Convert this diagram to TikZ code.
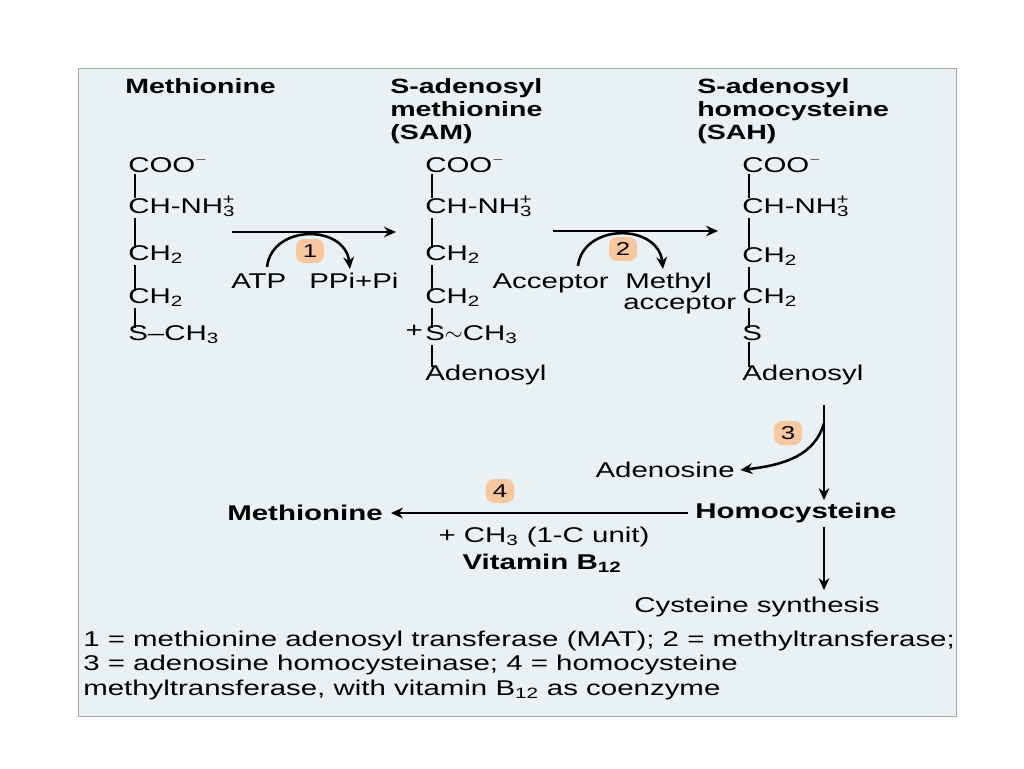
\documentclass[tikz,border=0pt]{standalone}
\usepackage{fontspec}
\setmainfont{Liberation Sans}[FakeStretch=1.38]
\usetikzlibrary{arrows.meta}
\definecolor{panel}{RGB}{234,241,245}
\definecolor{lbl}{RGB}{247,200,160}
\tikzset{
  txt/.style={inner sep=0pt,anchor=base west,font=\fontsize{16}{19}\selectfont},
  ttl/.style={inner sep=0pt,anchor=north west,align=left,font=\fontsize{15.5}{15.5}\selectfont\bfseries},
  bond/.style={line width=1.3pt},
  rx/.style={line width=1.9pt,-{Stealth[length=9pt,width=8pt]}},
  num/.style={fill=lbl,rounded corners=6pt,minimum width=21pt,minimum height=18pt,inner sep=0pt,font=\fontsize{14}{14}\selectfont},
}
\newcommand{\Nplus}{NH\textsubscript{3}\llap{\textsuperscript{+}}}
\begin{document}
\begin{tikzpicture}[x=0.75pt,y=-0.75pt]
\useasboundingbox (0,0) rectangle (1024,768);
\fill[white] (0,0) rectangle (1024,768);
\draw[fill=panel,draw=gray!70] (78,68) rectangle (956,716);
% titles
\node[ttl] (t1) at (125,78) {Methionine};
\node[ttl] (t2) at (390,78) {S-adenosyl\\[2pt]methionine\\[2pt](SAM)};
\node[ttl] (t3) at (697,78) {S-adenosyl\\[2pt]homocysteine\\[2pt](SAH)};
% column 1
\node[txt] (a1) at (128,172) {COO\textsuperscript{$-$}};
\node[txt] (a2) at (128,213) {CH-\Nplus};
\node[txt] (a3) at (128,260) {CH\textsubscript{2}};
\node[txt] (a4) at (128,303) {CH\textsubscript{2}};
\node[txt] (a5) at (128,340) {S--CH\textsubscript{3}};
\foreach \u/\v in {a1/a2,a2/a3,a3/a4,a4/a5}
  \draw[bond] ([xshift=5.5pt,yshift=-1pt]\u.south west) -- ([xshift=5.5pt,yshift=-2pt]\v.north west);
% column 2
\node[txt] (b1) at (425,172) {COO\textsuperscript{$-$}};
\node[txt] (b2) at (425,213) {CH-\Nplus};
\node[txt] (b3) at (425,260) {CH\textsubscript{2}};
\node[txt] (b4) at (425,303) {CH\textsubscript{2}};
\node[txt] (b5) at (425,340) {S$\sim$CH\textsubscript{3}};
\node[txt,anchor=base east] (bp) at (423,337) {+};
\node[txt] (b6) at (425,380) {Adenosyl};
\foreach \u/\v in {b1/b2,b2/b3,b3/b4,b4/b5,b5/b6}
  \draw[bond] ([xshift=5.5pt,yshift=-1pt]\u.south west) -- ([xshift=5.5pt,yshift=-2pt]\v.north west);
% column 3
\node[txt] (c1) at (742,172) {COO\textsuperscript{$-$}};
\node[txt] (c2) at (742,213) {CH-\Nplus};
\node[txt] (c3) at (742,262) {CH\textsubscript{2}};
\node[txt] (c4) at (742,303) {CH\textsubscript{2}};
\node[txt] (c5) at (742,340) {S};
\node[txt] (c6) at (742,380) {Adenosyl};
\foreach \u/\v in {c1/c2,c2/c3,c3/c4,c4/c5,c5/c6}
  \draw[bond] ([xshift=5.5pt,yshift=-1pt]\u.south west) -- ([xshift=5.5pt,yshift=-2pt]\v.north west);
% reaction 1
\coordinate (r1s) at (232,232); \coordinate (r1e) at (396,232);
\draw[rx] (r1s) -- (r1e);
\node[txt] (atp) at (231,288) {ATP};
\node[txt] (ppi) at (309,288) {PPi+Pi};
\node[num] (n1) at (310,251) {1};
\coordinate (c1s) at (267,267); \coordinate (c1e) at (350,269);
\draw[rx] (c1s) .. controls (272,224) and (345,224) .. (c1e);
% reaction 2
\coordinate (r2s) at (553,231); \coordinate (r2e) at (718,231);
\draw[rx] (r2s) -- (r2e);
\node[txt,anchor=base east] (acc) at (609,288) {Acceptor};
\node[txt] (me1) at (625,288) {Methyl};
\node[txt] (me2) at (623,309) {acceptor};
\node[num] (n2) at (623,249) {2};
\coordinate (c2s) at (578,266); \coordinate (c2e) at (663,269);
\draw[rx] (c2s) .. controls (583,223) and (658,223) .. (c2e);
% reaction 3
\coordinate (v1) at (824,405);
\node[txt,font=\fontsize{16}{19}\selectfont\bfseries,anchor=center] (hcy) at (796,513) {Homocysteine};
\draw[rx] (v1) -- ([yshift=2pt]hcy.north -| v1);
\node[txt,anchor=east] (ado) at (735,470) {Adenosine};
\node[num] (n3) at (788,433) {3};
\coordinate (v2) at (824,423);
\draw[rx] (v2) .. controls (815,455) and (785,465) .. ([xshift=4pt]ado.east);
% reaction 4
\node[txt,font=\fontsize{16}{19}\selectfont\bfseries,anchor=center] (met) at (305,513) {Methionine};
\draw[rx] ([xshift=-5pt]hcy.west) -- ([xshift=6pt]met.east);
\node[num] (n4) at (500,491) {4};
\node[txt,anchor=center] (ch3) at (544,537) {+ CH\textsubscript{3} (1-C unit)};
\node[txt,anchor=center,font=\fontsize{16}{19}\selectfont\bfseries] (vb) at (542,563) {Vitamin B\textsubscript{12}};
% cysteine
\node[txt,anchor=center] (cys) at (757,607) {Cysteine synthesis};
\coordinate (v3) at (824,527);
\draw[rx] (v3) -- ([yshift=5pt]cys.north -| v3);
% footer
\node[txt,anchor=west] (f1) at (83,641) {1 = methionine adenosyl transferase (MAT); 2 = methyltransferase;};
\node[txt,anchor=west] (f2) at (83,665) {3 = adenosine homocysteinase; 4 = homocysteine};
\node[txt,anchor=west] (f3) at (83,690) {methyltransferase, with vitamin B\textsubscript{12} as coenzyme};
\end{tikzpicture}
\end{document}
